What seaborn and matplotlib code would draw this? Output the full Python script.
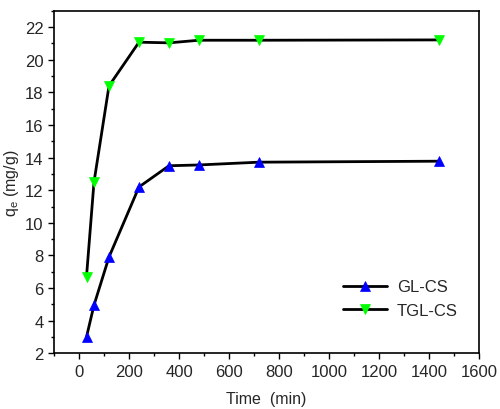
import matplotlib
matplotlib.use("Agg")
import matplotlib.pyplot as plt
from matplotlib.ticker import MultipleLocator
import seaborn as sns
import pandas as pd

time_min = [30, 60, 120, 240, 360, 480, 720, 1440]
gl_cs = [3.0, 4.95, 7.9, 12.2, 13.5, 13.55, 13.72, 13.78]
tgl_cs = [6.7, 12.5, 18.4, 21.08, 21.04, 21.2, 21.2, 21.22]

sns.set_style("white")
plt.rcParams['font.family'] = ['Liberation Sans', 'DejaVu Sans']

fig = plt.figure(figsize=(5, 4.1), dpi=100)
ax = fig.add_axes([0.108, 0.136, 0.85, 0.835])

df1 = pd.DataFrame({"t": time_min, "q": gl_cs})
df2 = pd.DataFrame({"t": time_min, "q": tgl_cs})
sns.lineplot(data=df1, x="t", y="q", ax=ax, color="black", lw=2, marker="^",
             markersize=7, markerfacecolor="#0000ff", markeredgecolor="#0000ff",
             markeredgewidth=0.5, label="GL-CS")
sns.lineplot(data=df2, x="t", y="q", ax=ax, color="black", lw=2, marker="v",
             markersize=7, markerfacecolor="#00ff00", markeredgecolor="#00ff00",
             markeredgewidth=0.5, label="TGL-CS")

ax.set_xlim(-100, 1600)
ax.set_ylim(2, 23)
ax.xaxis.set_major_locator(MultipleLocator(200))
ax.xaxis.set_minor_locator(MultipleLocator(100))
ax.yaxis.set_major_locator(MultipleLocator(2))
ax.yaxis.set_minor_locator(MultipleLocator(1))
ax.tick_params(axis='both', which='major', direction='out', length=4, width=1,
               labelsize=12, bottom=True, left=True, top=False, right=False, color='black')
ax.tick_params(axis='both', which='minor', direction='out', length=2.5, width=1,
               bottom=True, left=True, top=False, right=False, color='black')
for s in ax.spines.values():
    s.set_color('black')
    s.set_linewidth(1.2)

ax.set_xlabel("Time  (min)", fontsize=11.5, labelpad=9)
ax.set_ylabel(r"q$_\mathregular{e}$ (mg/g)", fontsize=11.5, labelpad=3)

leg = ax.legend(loc="lower right", bbox_to_anchor=(0.985, 0.06), frameon=False,
                fontsize=12, handlelength=2.6, handletextpad=0.6, labelspacing=0.5)

fig.savefig("out.png", dpi=100)
